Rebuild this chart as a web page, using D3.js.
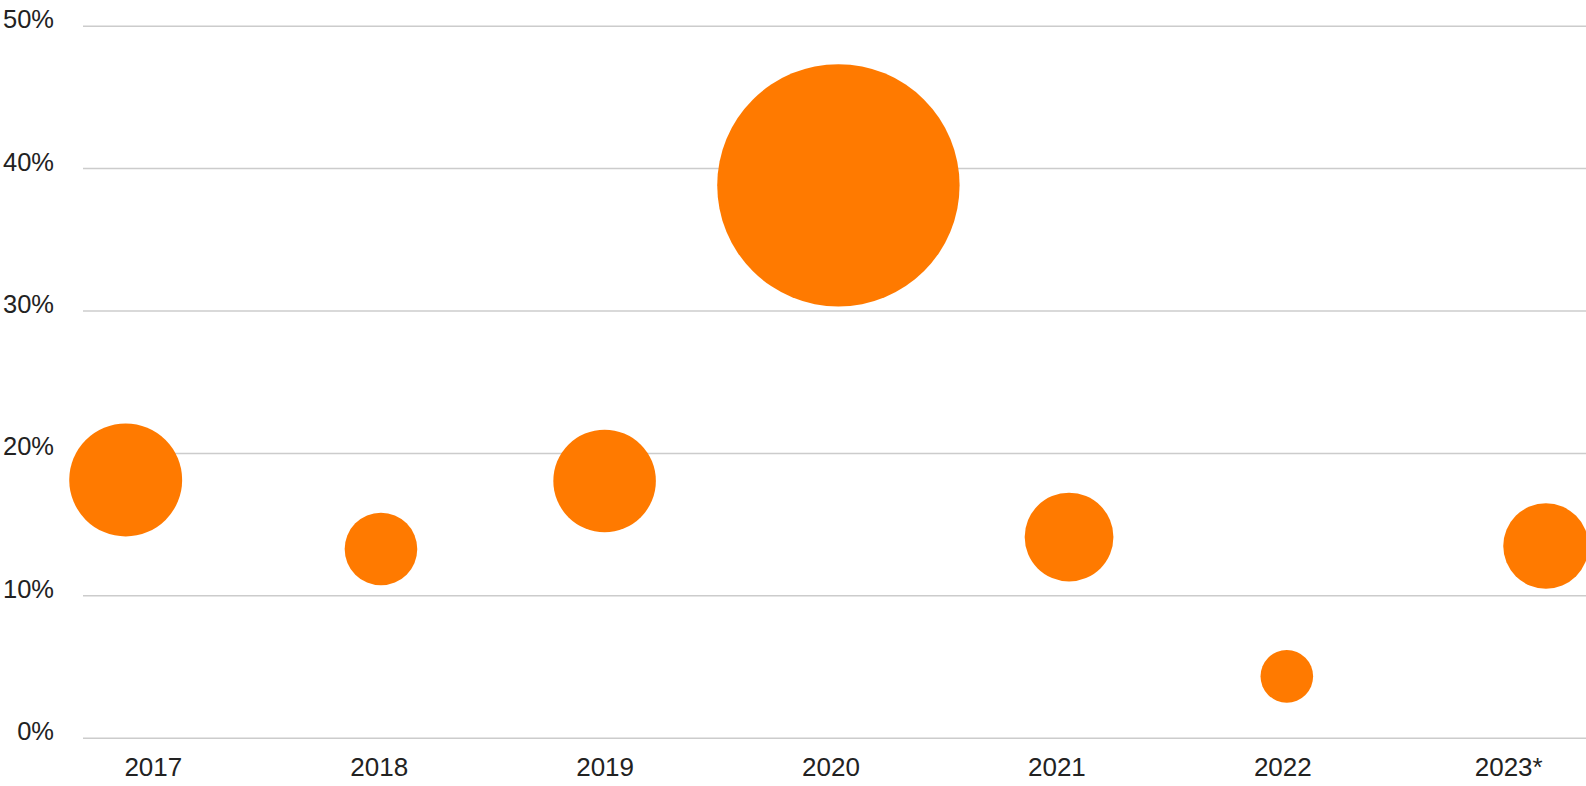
<html>
<head>
<meta charset="utf-8">
<title>Bubble chart</title>
<script src="https://cdn.jsdelivr.net/npm/d3@7"></script>
<style>
  body { margin: 0; background: #fff; }
  svg { display: block; font-family: Arial, "Liberation Sans", sans-serif; }
  .grid line { stroke: #cccccc; stroke-width: 1.5px; }
  .axis text { fill: #222; }
</style>
</head>
<body>
<div id="chart"></div>
<script>

// data
var years    = [2017, 2018, 2019, 2020, 2021, 2022, 2023];
var labels   = ["2017", "2018", "2019", "2020", "2021", "2022", "2023*"];
var xPos     = [2016.88, 2018.01, 2019.0, 2020.035, 2021.056, 2022.02, 2023.167];
var share    = [18.1, 13.25, 18.03, 38.79, 14.09, 4.31, 13.46];
var bubble   = [21.7, 8.97, 17.9, 100, 13.4, 4.71, 12.4];
var yTicks   = [0, 10, 20, 30, 40, 50];

var width = 1586;
var height = 786;

var svg = d3.select("#chart")
	.append("svg")
	.attr("width", width)
	.attr("height", height);

var x = d3.scaleLinear()
	.domain([2017, 2023])
	.range([152.8, 1508.2]);

var y = d3.scaleLinear()
	.domain([0, 50])
	.range([737.7, 25.7]);

var r = d3.scaleSqrt()
	.domain([0, d3.max(bubble)])
	.range([0, 121.2]);

// horizontal grid + y labels
var gridLeft = 83;
var yAxis = svg.append("g")
	.attr("class", "grid axis")
	.attr("transform", "translate(" + gridLeft + ",0)")
	.call(d3.axisLeft(y)
		.tickValues(yTicks)
		.tickSize(-(width - gridLeft))
		.tickPadding(29)
		.tickFormat(function(d) { return d + "%"; }));

yAxis.select(".domain").remove();
yAxis.selectAll("text")
	.attr("dy", "2px")
	.style("font-size", "25.5px");

// x labels
var xAxis = svg.append("g")
	.attr("class", "axis")
	.attr("transform", "translate(0," + y(0) + ")")
	.call(d3.axisBottom(x)
		.tickValues(years)
		.tickSize(0)
		.tickPadding(19.8)
		.tickFormat(function(d, i) { return labels[i]; }));

xAxis.select(".domain").remove();
xAxis.selectAll("text")
	.style("font-size", "26px");

// bubbles
var points = years.map(function(d, i) {
	return { year: d, x: xPos[i], v: share[i], s: bubble[i] };
});

svg.append("g")
	.selectAll("circle")
	.data(points)
	.enter()
	.append("circle")
	.attr("cx", function(d) { return x(d.x); })
	.attr("cy", function(d) { return y(d.v); })
	.attr("r", function(d) { return r(d.s); })
	.attr("fill", "#ff7a00");

</script>
</body>
</html>
